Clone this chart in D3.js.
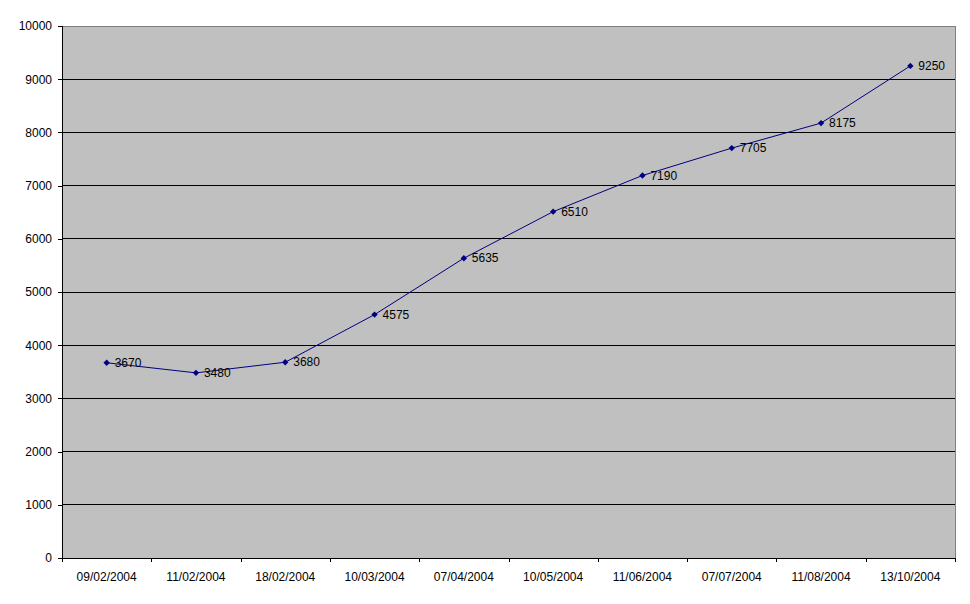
<!DOCTYPE html>
<html>
<head>
<meta charset="utf-8">
<script src="https://cdn.jsdelivr.net/npm/d3@7"></script>
<style>
  body { margin: 0; background: #fff; }
  text { font-family: Arial, "Liberation Sans", sans-serif; font-size: 12px; fill: #000; }
</style>
</head>
<body>
<div id="chart"></div>
<script>
var dates = ["09/02/2004", "11/02/2004", "18/02/2004", "10/03/2004", "07/04/2004",
             "10/05/2004", "11/06/2004", "07/07/2004", "11/08/2004", "13/10/2004"];
var values = [3670, 3480, 3680, 4575, 5635, 6510, 7190, 7705, 8175, 9250];
var yTicks = [0, 1000, 2000, 3000, 4000, 5000, 6000, 7000, 8000, 9000, 10000];

var W = 970, H = 604;
var margin = {top: 26, right: 15, bottom: 46, left: 62},
    width = W - margin.left - margin.right,
    height = H - margin.top - margin.bottom;

var svg = d3.select("#chart").append("svg")
    .attr("width", W)
    .attr("height", H);

var g = svg.append("g")
    .attr("transform", "translate(" + margin.left + "," + margin.top + ")");

var x = d3.scaleBand().domain(dates).range([0, width]);
var y = d3.scaleLinear().domain([0, 10000]).range([height, 0]);

// plot area
g.append("rect")
    .attr("width", width)
    .attr("height", height)
    .attr("fill", "#c0c0c0")
    .attr("stroke", "#808080")
    .attr("stroke-width", 1)
    .attr("shape-rendering", "crispEdges");

// gridlines
g.selectAll("line.grid")
    .data(yTicks.filter(function(d) { return d > 0 && d < 10000; }))
  .enter().append("line")
    .attr("class", "grid")
    .attr("x1", 0).attr("x2", width)
    .attr("y1", function(d) { return y(d); })
    .attr("y2", function(d) { return y(d); })
    .attr("stroke", "#000")
    .attr("shape-rendering", "crispEdges");

// y axis
var yAxis = d3.axisLeft(y).tickValues(yTicks).tickSize(4).tickPadding(6).tickFormat(d3.format("d"));
var yg = g.append("g").call(yAxis);
yg.select(".domain").attr("stroke", "#000").attr("shape-rendering", "crispEdges");
yg.selectAll(".tick line").attr("stroke", "#000").attr("shape-rendering", "crispEdges");
yg.selectAll("text").style("font-family", "Arial, 'Liberation Sans', sans-serif").style("font-size", "12px");

// x axis, ticks between categories
var xAxis = d3.axisBottom(x).tickSize(0).tickPadding(14);
var xg = g.append("g")
    .attr("transform", "translate(0," + height + ")")
    .call(xAxis);
xg.select(".domain").remove();
xg.selectAll("text").style("font-family", "Arial, 'Liberation Sans', sans-serif").style("font-size", "12px");
xg.append("line")
    .attr("x1", 0).attr("x2", width)
    .attr("stroke", "#000")
    .attr("shape-rendering", "crispEdges");
xg.selectAll("line.sep")
    .data(d3.range(dates.length + 1))
  .enter().append("line")
    .attr("class", "sep")
    .attr("x1", function(i) { return Math.round(i * x.bandwidth()); })
    .attr("x2", function(i) { return Math.round(i * x.bandwidth()); })
    .attr("y1", 0).attr("y2", 4)
    .attr("stroke", "#000")
    .attr("shape-rendering", "crispEdges");

// line
var line = d3.line()
    .x(function(d, i) { return x(dates[i]) + x.bandwidth() / 2; })
    .y(function(d) { return y(d); });

g.append("path")
    .datum(values)
    .attr("d", line)
    .attr("fill", "none")
    .attr("stroke", "#000080")
    .attr("stroke-width", 1);

// markers (square diamonds)
g.selectAll("path.marker")
    .data(values)
  .enter().append("path")
    .attr("class", "marker")
    .attr("d", d3.symbol().type(d3.symbolDiamond2).size(26))
    .attr("transform", function(d, i) {
      return "translate(" + (x(dates[i]) + x.bandwidth() / 2) + "," + y(d) + ")";
    })
    .attr("fill", "#000080");

// data labels
g.selectAll("text.lbl")
    .data(values)
  .enter().append("text")
    .attr("class", "lbl")
    .attr("x", function(d, i) { return x(dates[i]) + x.bandwidth() / 2 + 8; })
    .attr("y", function(d) { return y(d); })
    .attr("dy", "0.35em")
    .text(function(d) { return d; });
</script>
</body>
</html>
